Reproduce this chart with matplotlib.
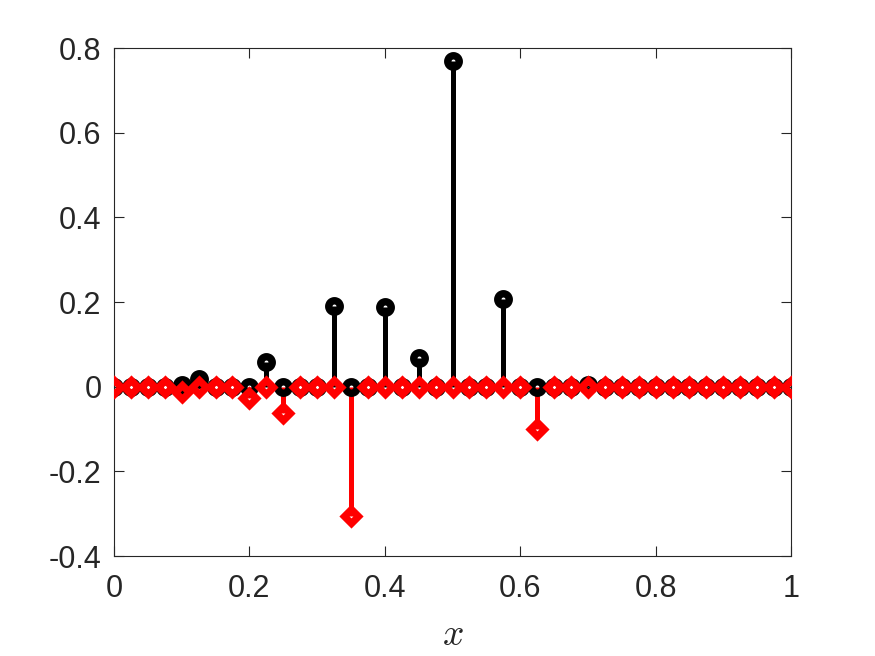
"""Stem plot of two coefficient sets over x in [0, 1]."""

import numpy as np
import matplotlib
matplotlib.use("Agg")
import matplotlib.pyplot as plt

# sample grid, 41 points
x = np.linspace(0, 1, 41)

black_vals = [
    0, 0, 0, 0, 0.003, 0.018, 0, 0, 0, 0.059,
    0, 0, 0, 0.19, 0, 0, 0.188, 0, 0.068, 0,
    0.77, 0, 0, 0.207, 0, 0, 0, 0, 0.004, 0,
    0, 0, 0, 0, 0, 0, 0, 0, 0, 0, 0,
]
red_vals = [
    0, 0, 0, 0, -0.013, 0, 0, 0, -0.027, 0,
    -0.061, 0, 0, 0, -0.305, 0, 0, 0, 0, 0,
    0, 0, 0, 0, 0, -0.099, 0, 0, 0, 0,
    0, 0, 0, 0, 0, 0, 0, 0, 0, 0, 0,
]

xticks = [0, 0.2, 0.4, 0.6, 0.8, 1]
yticks = [-0.4, -0.2, 0, 0.2, 0.4, 0.6, 0.8]

plt.rcParams["font.family"] = ["Liberation Sans", "DejaVu Sans"]
plt.rcParams["mathtext.fontset"] = "cm"

axis_gray = (0.15, 0.15, 0.15)

fig = plt.figure(figsize=(8.75, 6.56), dpi=100)
ax = fig.add_axes([0.1303, 0.1524, 0.7737, 0.7744])


def draw_stem(ax, xs, ys, color, marker, ms, mew):
    ax.vlines(xs, 0, ys, colors=color, linewidth=3.6, zorder=2)
    ax.plot(xs, ys, linestyle="none", marker=marker, markersize=ms,
            markerfacecolor="none", markeredgecolor=color,
            markeredgewidth=mew, zorder=3)


draw_stem(ax, x, black_vals, "black", "o", 8.3, 5.3)
draw_stem(ax, x, red_vals, "red", "D", 7.2, 5.2)

ax.set_xlim(0, 1)
ax.set_ylim(-0.4, 0.8)
ax.set_xticks(xticks)
ax.set_xticklabels([f"{t:g}" for t in xticks])
ax.set_yticks(yticks)
ax.set_yticklabels([f"{t:g}" for t in yticks])

ax.tick_params(direction="in", length=7, width=0.8, top=True, right=True,
               labelsize=22, colors=axis_gray)
ax.tick_params(axis="x", pad=13)
ax.tick_params(axis="y", pad=9)
for side in ax.spines.values():
    side.set_color(axis_gray)
    side.set_linewidth(0.8)

ax.set_xlabel("$x$", fontsize=27, color=axis_gray, labelpad=9)

fig.savefig("out.png", dpi=100)
plt.close(fig)
